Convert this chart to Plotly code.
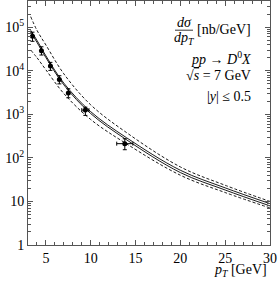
import plotly.graph_objects as go

# ---- data ----
pt_data = [3.5, 4.5, 5.5, 6.5, 7.5, 9.4, 13.8]
xs_data = [6.2e4, 2.9e4, 1.28e4, 6.3e3, 3.1e3, 1.25e3, 212]
err_hi = [1.5e4, 6.5e3, 2.8e3, 1.4e3, 760, 210, 63]
err_lo = [1.45e4, 6.0e3, 2.6e3, 1.3e3, 700, 306, 58]
pt_err = [0.0, 0.0, 0.0, 0.0, 0.0, 0.4, 0.9]

pt_curve = [3.3, 4, 5, 7, 10, 14, 20, 25, 30]
upper_dashed = [1.75e5, 8.5e4, 3.9e4, 8.5e3, 1.65e3, 3.8e2, 62, 23.5, 10]
central_a = [8.5e4, 5.0e4, 2.2e4, 5.2e3, 1.15e3, 2.9e2, 52, 20.5, 8.9]
central_b = [7.8e4, 4.5e4, 2.0e4, 4.75e3, 1.04e3, 2.6e2, 46, 18.3, 7.9]
lower_dashed = [3.0e4, 2.0e4, 1.05e4, 3.0e3, 7.6e2, 2.1e2, 40, 16, 7.1]

ytick_vals = [1, 10, 100, 1e3, 1e4, 1e5]
ytick_text = ["1", "10", "10<sup>2</sup>", "10<sup>3</sup>", "10<sup>4</sup>", "10<sup>5</sup>"]
xtick_vals = [5, 10, 15, 20, 25, 30]

FONT = "Liberation Serif"
W, H = 280, 284
ML, MR, MT, MB = 28, 10, 1, 39
PW, PH = W - ML - MR, H - MT - MB


def px(x):
    return (x - ML) / PW


def py(y):
    return (H - MB - y) / PH


fig = go.Figure()
for yv, dash in [(upper_dashed, "3px,2px"), (central_a, "solid"),
                 (central_b, "solid"), (lower_dashed, "3px,2px")]:
    fig.add_trace(go.Scatter(x=pt_curve, y=yv, mode="lines", line_shape="spline",
                             line=dict(color="black", width=0.9, dash=dash),
                             showlegend=False, hoverinfo="skip"))

fig.add_trace(go.Scatter(
    x=pt_data, y=xs_data, mode="markers",
    marker=dict(color="black", size=5, symbol="circle"),
    error_y=dict(type="data", array=err_hi, arrayminus=err_lo, color="black",
                 thickness=1, width=2),
    error_x=dict(type="data", array=pt_err, color="black", thickness=1, width=2),
    showlegend=False))

axis_common = dict(showline=True, linecolor="#555", linewidth=1, mirror="allticks",
                   ticks="inside", tickcolor="#555", showgrid=False, zeroline=False,
                   automargin=False,
                   tickfont=dict(family=FONT, size=14, color="black"))

fig.update_xaxes(range=[3, 30], tickvals=xtick_vals, ticklen=5,
                 minor=dict(dtick=1, ticks="inside", ticklen=3, tickcolor="#555"),
                 **axis_common)
fig.update_yaxes(type="log", range=[0, 5.602], tickvals=ytick_vals, ticktext=ytick_text,
                 ticklen=5,
                 minor=dict(dtick="D1", ticks="inside", ticklen=3, tickcolor="#555"),
                 **axis_common)

tf = dict(family=FONT, size=14, color="black")
ann = [
    (253, 30, "[nb/GeV]", "right"),
    (184, 22.5, "<i>dσ</i>", "center"),
    (184, 38, "<i>dp<sub>T</sub></i>", "center"),
    (253, 58, "<i>pp</i> → <i>D</i><sup>0</sup><i>X</i>", "right"),
    (253, 75, "√<span style='text-decoration:overline'><i>s</i></span> = 7 GeV", "right"),
    (253, 96, "|<i>y</i>| ≤ 0.5", "right"),
    (269, 270, "<i>p<sub>T</sub></i> [GeV]", "right"),
]
for x, y, t, xa in ann:
    fig.add_annotation(x=px(x), y=py(y), xref="paper", yref="paper", text=t,
                       xanchor=xa, yanchor="middle", showarrow=False, font=tf)

fig.add_shape(type="line", xref="paper", yref="paper", x0=px(175), x1=px(193),
              y0=py(30.2), y1=py(30.2), line=dict(color="black", width=0.8))

fig.update_layout(width=W, height=H, margin=dict(l=ML, r=MR, t=MT, b=MB),
                  paper_bgcolor="white", plot_bgcolor="white", showlegend=False)
fig.write_html("out.html", config={"displayModeBar": False},
               post_script="document.body.style.margin='0px';")
